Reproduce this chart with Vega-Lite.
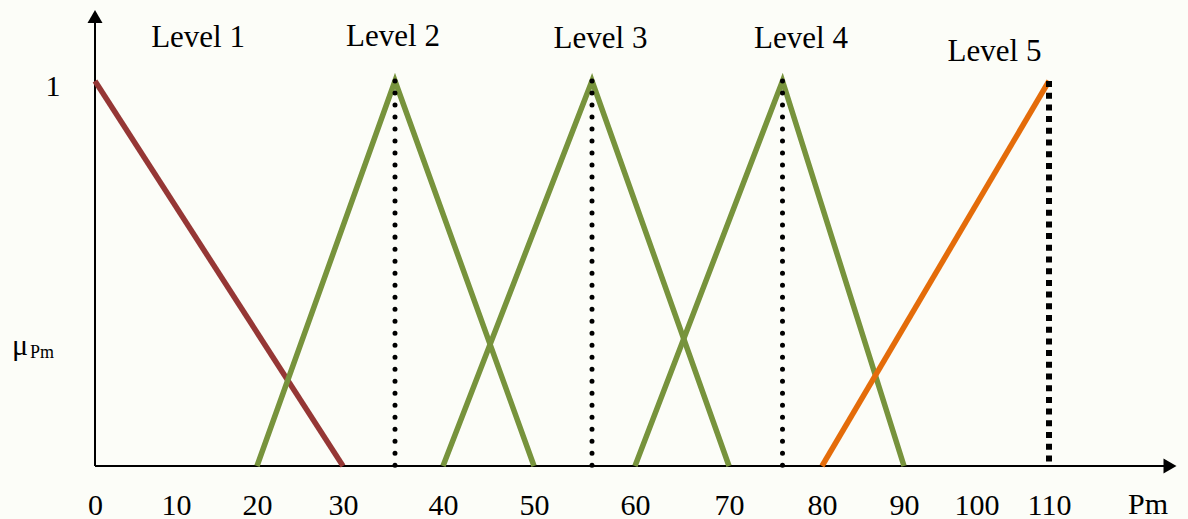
{
  "$schema": "https://vega.github.io/schema/vega-lite/v6.json",
  "width": 1080,
  "height": 456,
  "autosize": {"type": "none"},
  "padding": {"left": 95, "top": 10, "right": 13, "bottom": 53},
  "background": "#fcfdf8",
  "config": {"view": {"stroke": null}, "font": "Liberation Serif"},
  "encoding": {
    "x": {
      "field": "x",
      "type": "quantitative",
      "title": null,
      "scale": {
        "domain": [0, 20, 30, 35, 40, 50, 55, 60, 70, 75, 80, 90, 110, 122],
        "range": [0, 162, 248, 300, 348, 439, 497, 540, 634, 687.5, 727, 809, 954, 1075],
        "nice": false,
        "zero": false
      },
      "axis": {
        "values": [0, 10, 20, 30, 40, 50, 60, 70, 80, 90, 100, 110],
        "domain": false,
        "ticks": false,
        "grid": false,
        "labelFont": "Liberation Serif",
        "labelFontSize": 30,
        "labelColor": "#000000",
        "labelBaseline": "alphabetic",
        "labelPadding": 48,
        "labelFlush": false,
        "labelOverlap": false,
        "labelBound": false,
        "labelAngle": 0
      }
    },
    "y": {
      "field": "y",
      "type": "quantitative",
      "title": null,
      "scale": {"domain": [0, 1.1844], "nice": false, "zero": false},
      "axis": {
        "values": [1],
        "domain": false,
        "ticks": false,
        "grid": false,
        "labelFont": "Liberation Serif",
        "labelFontSize": 30,
        "labelColor": "#000000",
        "labelBaseline": "alphabetic",
        "labelAlign": "right",
        "labelPadding": 35,
        "labelOffset": 15
      }
    }
  },
  "layer": [
    {
      "data": {"values": [
        {"x": 0, "y": 0, "x2": 122, "y2": 0},
        {"x": 0, "y": 0, "x2": 0, "y2": 1.1675}
      ]},
      "mark": {"type": "rule", "color": "#000000", "strokeWidth": 2},
      "encoding": {
        "x2": {"field": "x2"},
        "y2": {"field": "y2"}
      }
    },
    {
      "data": {"values": [
        {"x": 122, "y": 0, "dir": "triangle-right"},
        {"x": 0, "y": 1.1675, "dir": "triangle-up"}
      ]},
      "mark": {"type": "point", "filled": true, "color": "#000000", "size": 225, "opacity": 1},
      "encoding": {
        "shape": {"field": "dir", "type": "nominal", "scale": {"domain": ["triangle-right", "triangle-up"], "range": ["triangle-right", "triangle-up"]}, "legend": null}
      }
    },
    {
      "data": {"values": [
        {"level": "Level 1", "x": 0, "y": 1},
        {"level": "Level 1", "x": 30, "y": 0},
        {"level": "Level 2", "x": 20, "y": 0},
        {"level": "Level 2", "x": 35, "y": 1},
        {"level": "Level 2", "x": 50, "y": 0},
        {"level": "Level 3", "x": 40, "y": 0},
        {"level": "Level 3", "x": 55, "y": 1},
        {"level": "Level 3", "x": 70, "y": 0},
        {"level": "Level 4", "x": 60, "y": 0},
        {"level": "Level 4", "x": 75, "y": 1},
        {"level": "Level 4", "x": 90, "y": 0},
        {"level": "Level 5", "x": 80, "y": 0},
        {"level": "Level 5", "x": 110, "y": 1}
      ]},
      "mark": {"type": "line", "strokeWidth": 5.5, "strokeCap": "butt", "strokeJoin": "miter"},
      "encoding": {
        "color": {
          "field": "level",
          "type": "nominal",
          "scale": {
            "domain": ["Level 1", "Level 2", "Level 3", "Level 4", "Level 5"],
            "range": ["#953735", "#77933C", "#77933C", "#77933C", "#E46C0A"]
          },
          "legend": null
        }
      }
    },
    {
      "data": {"values": [
        {"x": 35, "y": 1, "y2": 0},
        {"x": 55, "y": 1, "y2": 0},
        {"x": 75, "y": 1, "y2": 0}
      ]},
      "mark": {"type": "rule", "color": "#000000", "strokeWidth": 5, "strokeCap": "round", "strokeDash": [0.01, 12]},
      "encoding": {"y2": {"field": "y2"}}
    },
    {
      "data": {"values": [
        {"x": 110, "y": 1, "y2": 0}
      ]},
      "mark": {"type": "rule", "color": "#000000", "strokeWidth": 6, "strokeCap": "butt", "strokeDash": [6, 5.7]},
      "encoding": {"y2": {"field": "y2"}}
    },
    {
      "data": {"values": [
        {"label": "Level 1", "x": 12.72, "y": 1.0883},
        {"label": "Level 2", "x": 34.81, "y": 1.0909},
        {"label": "Level 3", "x": 55.99, "y": 1.085},
        {"label": "Level 4", "x": 77.34, "y": 1.085},
        {"label": "Level 5", "x": 102.48, "y": 1.0519}
      ]},
      "mark": {"type": "text", "font": "Liberation Serif", "fontSize": 31, "color": "#000000", "align": "center", "baseline": "alphabetic"},
      "encoding": {"text": {"field": "label"}}
    },
    {
      "data": {"values": [
        {"label": "μ", "x": -10.25, "y": 0.288, "size": 30},
        {"label": "Pm", "x": -8.02, "y": 0.2805, "size": 18},
        {"label": "Pm", "x": 117.83, "y": -0.1247, "size": 30}
      ]},
      "mark": {"type": "text", "font": "Liberation Serif", "color": "#000000", "align": "left", "baseline": "alphabetic"},
      "encoding": {
        "text": {"field": "label"},
        "size": {"field": "size", "type": "quantitative", "scale": null, "legend": null}
      }
    }
  ]
}
